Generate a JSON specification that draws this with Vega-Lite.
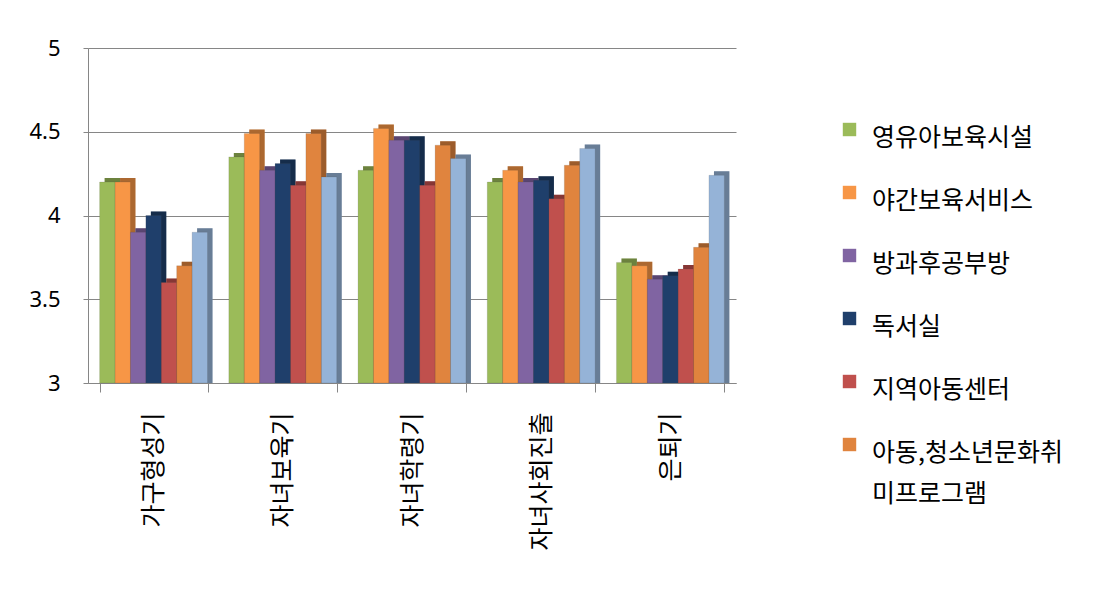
{
  "$schema": "https://vega.github.io/schema/vega-lite/v6.json",
  "width": 648,
  "height": 335,
  "autosize": "none",
  "padding": {"left": 88, "top": 48, "right": 362, "bottom": 215},
  "background": "white",
  "config": {
    "font": "Noto Sans CJK KR",
    "view": {"stroke": null}
  },
  "data": {
    "values": [
      {"stage": "가구형성기", "service": "영유아보육시설", "score": 4.2},
      {"stage": "가구형성기", "service": "야간보육서비스", "score": 4.2},
      {"stage": "가구형성기", "service": "방과후공부방", "score": 3.9},
      {"stage": "가구형성기", "service": "독서실", "score": 4.0},
      {"stage": "가구형성기", "service": "지역아동센터", "score": 3.6},
      {"stage": "가구형성기", "service": "아동,청소년문화취미프로그램", "score": 3.7},
      {"stage": "가구형성기", "service": "기타", "score": 3.9},
      {"stage": "자녀보육기", "service": "영유아보육시설", "score": 4.35},
      {"stage": "자녀보육기", "service": "야간보육서비스", "score": 4.49},
      {"stage": "자녀보육기", "service": "방과후공부방", "score": 4.27},
      {"stage": "자녀보육기", "service": "독서실", "score": 4.31},
      {"stage": "자녀보육기", "service": "지역아동센터", "score": 4.18},
      {"stage": "자녀보육기", "service": "아동,청소년문화취미프로그램", "score": 4.49},
      {"stage": "자녀보육기", "service": "기타", "score": 4.23},
      {"stage": "자녀학령기", "service": "영유아보육시설", "score": 4.27},
      {"stage": "자녀학령기", "service": "야간보육서비스", "score": 4.52},
      {"stage": "자녀학령기", "service": "방과후공부방", "score": 4.45},
      {"stage": "자녀학령기", "service": "독서실", "score": 4.45},
      {"stage": "자녀학령기", "service": "지역아동센터", "score": 4.18},
      {"stage": "자녀학령기", "service": "아동,청소년문화취미프로그램", "score": 4.42},
      {"stage": "자녀학령기", "service": "기타", "score": 4.34},
      {"stage": "자녀사회진출", "service": "영유아보육시설", "score": 4.2},
      {"stage": "자녀사회진출", "service": "야간보육서비스", "score": 4.27},
      {"stage": "자녀사회진출", "service": "방과후공부방", "score": 4.2},
      {"stage": "자녀사회진출", "service": "독서실", "score": 4.21},
      {"stage": "자녀사회진출", "service": "지역아동센터", "score": 4.1},
      {"stage": "자녀사회진출", "service": "아동,청소년문화취미프로그램", "score": 4.3},
      {"stage": "자녀사회진출", "service": "기타", "score": 4.4},
      {"stage": "은퇴기", "service": "영유아보육시설", "score": 3.72},
      {"stage": "은퇴기", "service": "야간보육서비스", "score": 3.7},
      {"stage": "은퇴기", "service": "방과후공부방", "score": 3.62},
      {"stage": "은퇴기", "service": "독서실", "score": 3.64},
      {"stage": "은퇴기", "service": "지역아동센터", "score": 3.68},
      {"stage": "은퇴기", "service": "아동,청소년문화취미프로그램", "score": 3.81},
      {"stage": "은퇴기", "service": "기타", "score": 4.24}
    ]
  },
  "encoding": {
    "x": {
      "field": "stage",
      "type": "nominal",
      "sort": ["가구형성기", "자녀보육기", "자녀학령기", "자녀사회진출", "은퇴기"],
      "scale": {"paddingInner": 0.165, "paddingOuter": 0.09},
      "axis": {
        "title": null,
        "labelAngle": -90,
        "labelFontSize": 25,
        "labelColor": "#000000",
        "labelPadding": 20,
        "tickBand": "extent",
        "tickSize": 9,
        "tickColor": "#868686",
        "domainColor": "#868686",
        "labelFont": "Noto Sans CJK KR"
      }
    },
    "y": {
      "field": "score",
      "type": "quantitative",
      "scale": {"domain": [3, 5], "zero": false},
      "axis": {
        "title": null,
        "values": [3, 3.5, 4, 4.5, 5],
        "format": "~g",
        "labelFontSize": 22,
        "labelColor": "#000000",
        "labelPadding": 23,
        "tickSize": 5,
        "tickColor": "#868686",
        "domainColor": "#868686",
        "gridColor": "#868686",
        "gridWidth": 1.2,
        "labelFont": "Noto Sans"
      }
    },
    "y2": {"datum": 3},
    "color": {
      "field": "service",
      "type": "nominal",
      "scale": {
        "domain": ["영유아보육시설", "야간보육서비스", "방과후공부방", "독서실", "지역아동센터", "아동,청소년문화취미프로그램", "기타"],
        "range": ["#9BBB59", "#F79646", "#8064A2", "#1F3F6B", "#C0504D", "#E0843E", "#95B3D7"]
      },
      "legend": {
        "title": null,
        "orient": "none",
        "legendX": 749,
        "legendY": 69,
        "values": ["영유아보육시설", "야간보육서비스", "방과후공부방", "독서실", "지역아동센터", "아동,청소년문화취미프로그램"],
        "symbolType": "square",
        "symbolSize": 180,
        "symbolStrokeWidth": 0,
        "labelFontSize": 25,
        "labelColor": "#000000",
        "labelLimit": 300,
        "labelOffset": 10,
        "rowPadding": 29,
        "labelExpr": "datum.label == '아동,청소년문화취미프로그램' ? ['아동,청소년문화취', '미프로그램'] : datum.label",
        "labelBaseline": "top",
        "encode": {
          "labels": {"update": {"lineHeight": {"value": 41}, "dy": {"value": -4}}}
        }
      }
    }
  },
  "layer": [
    {
      "mark": {"type": "bar", "yOffset": -4},
      "encoding": {
        "xOffset": {
          "field": "service",
          "type": "nominal",
          "sort": ["영유아보육시설", "야간보육서비스", "방과후공부방", "독서실", "지역아동센터", "아동,청소년문화취미프로그램", "기타"],
          "scale": {"paddingInner": 0, "range": [5, 112.9]}
        }
      }
    },
    {
      "mark": {"type": "bar", "yOffset": -4, "opacity": 0.3},
      "encoding": {
        "color": {"value": "#000000"},
        "xOffset": {
          "field": "service",
          "type": "nominal",
          "sort": ["영유아보육시설", "야간보육서비스", "방과후공부방", "독서실", "지역아동센터", "아동,청소년문화취미프로그램", "기타"],
          "scale": {"paddingInner": 0, "range": [5, 112.9]}
        }
      }
    },
    {
      "mark": {"type": "bar", "stroke": "#4a4a4a", "strokeOpacity": 0.25, "strokeWidth": 0.6},
      "encoding": {
        "xOffset": {
          "field": "service",
          "type": "nominal",
          "sort": ["영유아보육시설", "야간보육서비스", "방과후공부방", "독서실", "지역아동센터", "아동,청소년문화취미프로그램", "기타"],
          "scale": {"paddingInner": 0}
        }
      }
    }
  ],
  "resolve": {"scale": {"xOffset": "independent"}}
}
